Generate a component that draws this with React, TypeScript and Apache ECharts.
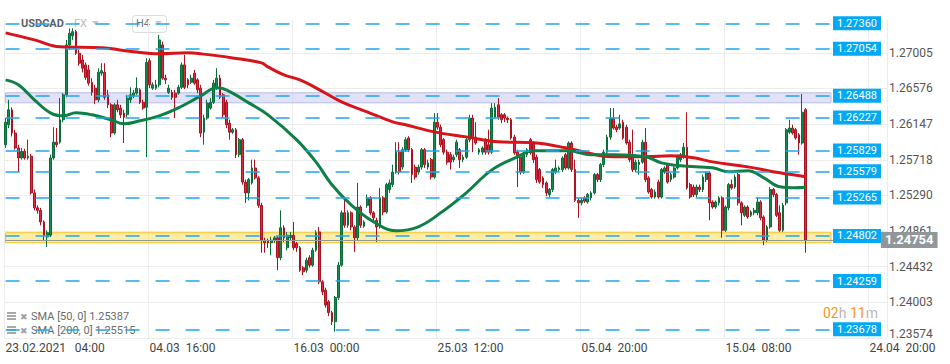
import React, { useEffect, useRef } from 'react';
import * as echarts from 'echarts';

// Tick labels of the time axis (one every 45 H4 bars)
const timeLabels = [
  '23.02.2021\u00a0\u00a0\u00a004:00',
  '04.03\u00a0\u00a016:00',
  '16.03\u00a0\u00a000:00',
  '25.03\u00a0\u00a012:00',
  '05.04\u00a0\u00a020:00',
  '15.04\u00a0\u00a008:00',
  '24.04\u00a0\u00a020:00',
];
const labelStep = 45;
const slotCount = 276;

// H4 candles: [open, close, low, high]
const candles: number[][] = [
  [1.2590,1.2617,1.2586,1.2622],[1.2614,1.2632,1.2610,1.2644],[1.2632,1.2604,1.2600,1.2635],[1.2604,1.2586,1.2584,1.2608],
  [1.2586,1.2574,1.2557,1.2590],[1.2574,1.2582,1.2572,1.2586],[1.2582,1.2574,1.2572,1.2585],[1.2574,1.2576,1.2572,1.2596],
  [1.2576,1.2532,1.2530,1.2579],[1.2532,1.2514,1.2511,1.2536],[1.2514,1.2511,1.2507,1.2517],[1.2511,1.2497,1.2493,1.2514],
  [1.2497,1.2481,1.2475,1.2499],[1.2479,1.2484,1.2467,1.2487],[1.2481,1.2574,1.2479,1.2578],[1.2574,1.2593,1.2572,1.2611],
  [1.2593,1.2590,1.2587,1.2610],[1.2593,1.2620,1.2591,1.2646],[1.2620,1.2650,1.2617,1.2652],[1.2650,1.2710,1.2647,1.2716],
  [1.2710,1.2724,1.2704,1.2730],[1.2721,1.2726,1.2716,1.2730],[1.2726,1.2700,1.2698,1.2728],[1.2700,1.2688,1.2685,1.2704],
  [1.2692,1.2682,1.2677,1.2698],[1.2686,1.2671,1.2668,1.2689],[1.2680,1.2664,1.2661,1.2686],[1.2665,1.2653,1.2649,1.2670],
  [1.2658,1.2644,1.2639,1.2662],[1.2644,1.2677,1.2641,1.2682],[1.2676,1.2679,1.2673,1.2688],[1.2677,1.2647,1.2644,1.2688],
  [1.2650,1.2638,1.2634,1.2656],[1.2638,1.2604,1.2599,1.2640],[1.2604,1.2638,1.2602,1.2640],[1.2638,1.2632,1.2629,1.2644],
  [1.2634,1.2626,1.2622,1.2638],[1.2628,1.2623,1.2592,1.2632],[1.2626,1.2646,1.2623,1.2650],[1.2644,1.2650,1.2640,1.2659],
  [1.2649,1.2652,1.2646,1.2656],[1.2652,1.2658,1.2650,1.2671],[1.2656,1.2641,1.2639,1.2658],[1.2641,1.2634,1.2632,1.2644],
  [1.2635,1.2689,1.2575,1.2694],[1.2691,1.2662,1.2658,1.2694],[1.2658,1.2662,1.2656,1.2665],[1.2658,1.2662,1.2656,1.2668],
  [1.2662,1.2716,1.2659,1.2722],[1.2710,1.2670,1.2668,1.2714],[1.2670,1.2668,1.2663,1.2674],[1.2653,1.2658,1.2651,1.2662],
  [1.2653,1.2647,1.2644,1.2656],[1.2652,1.2647,1.2622,1.2656],[1.2652,1.2659,1.2650,1.2662],[1.2659,1.2686,1.2657,1.2689],
  [1.2686,1.2659,1.2657,1.2698],[1.2668,1.2662,1.2658,1.2670],[1.2665,1.2670,1.2663,1.2674],[1.2676,1.2664,1.2662,1.2680],
  [1.2668,1.2656,1.2652,1.2670],[1.2658,1.2604,1.2599,1.2662],[1.2605,1.2622,1.2590,1.2626],[1.2622,1.2640,1.2620,1.2644],
  [1.2634,1.2641,1.2632,1.2646],[1.2641,1.2664,1.2639,1.2668],[1.2658,1.2670,1.2656,1.2682],[1.2670,1.2647,1.2645,1.2674],
  [1.2650,1.2626,1.2622,1.2652],[1.2641,1.2614,1.2610,1.2644],[1.2616,1.2605,1.2596,1.2620],[1.2605,1.2608,1.2603,1.2610],
  [1.2608,1.2578,1.2574,1.2610],[1.2578,1.2596,1.2575,1.2598],[1.2596,1.2545,1.2542,1.2598],[1.2545,1.2532,1.2520,1.2548],
  [1.2532,1.2548,1.2523,1.2550],[1.2544,1.2562,1.2542,1.2572],[1.2562,1.2550,1.2548,1.2572],[1.2550,1.2517,1.2514,1.2552],
  [1.2517,1.2475,1.2460,1.2520],[1.2475,1.2472,1.2460,1.2478],[1.2474,1.2472,1.2466,1.2477],[1.2472,1.2475,1.2457,1.2479],
  [1.2475,1.2478,1.2472,1.2480],[1.2478,1.2454,1.2439,1.2480],[1.2454,1.2490,1.2451,1.2511],[1.2490,1.2478,1.2473,1.2493],
  [1.2466,1.2481,1.2463,1.2485],[1.2478,1.2481,1.2475,1.2485],[1.2481,1.2466,1.2463,1.2497],[1.2471,1.2466,1.2461,1.2473],
  [1.2466,1.2439,1.2437,1.2468],[1.2442,1.2437,1.2433,1.2444],[1.2439,1.2451,1.2436,1.2454],[1.2454,1.2445,1.2442,1.2457],
  [1.2445,1.2463,1.2443,1.2466],[1.2463,1.2484,1.2461,1.2487],[1.2485,1.2425,1.2422,1.2491],[1.2425,1.2413,1.2409,1.2427],
  [1.2415,1.2397,1.2394,1.2418],[1.2401,1.2388,1.2384,1.2403],[1.2388,1.2377,1.2373,1.2390],[1.2377,1.2406,1.2365,1.2408],
  [1.2406,1.2445,1.2403,1.2449],[1.2445,1.2508,1.2443,1.2511],[1.2508,1.2493,1.2490,1.2526],[1.2493,1.2508,1.2490,1.2511],
  [1.2508,1.2491,1.2487,1.2510],[1.2491,1.2478,1.2461,1.2493],[1.2478,1.2515,1.2475,1.2544],[1.2515,1.2493,1.2490,1.2517],
  [1.2492,1.2497,1.2490,1.2499],[1.2517,1.2526,1.2514,1.2530],[1.2526,1.2508,1.2505,1.2528],[1.2508,1.2502,1.2498,1.2510],
  [1.2499,1.2491,1.2473,1.2502],[1.2491,1.2526,1.2489,1.2538],[1.2526,1.2509,1.2505,1.2528],[1.2509,1.2542,1.2507,1.2544],
  [1.2536,1.2544,1.2532,1.2548],[1.2542,1.2557,1.2539,1.2566],[1.2557,1.2581,1.2555,1.2593],[1.2581,1.2557,1.2554,1.2593],
  [1.2563,1.2584,1.2560,1.2587],[1.2584,1.2596,1.2581,1.2599],[1.2598,1.2584,1.2581,1.2600],[1.2584,1.2554,1.2544,1.2586],
  [1.2563,1.2551,1.2548,1.2566],[1.2557,1.2563,1.2554,1.2566],[1.2563,1.2584,1.2560,1.2586],[1.2584,1.2566,1.2562,1.2586],
  [1.2563,1.2568,1.2560,1.2572],[1.2572,1.2551,1.2548,1.2574],[1.2551,1.2617,1.2549,1.2628],[1.2617,1.2611,1.2608,1.2628],
  [1.2611,1.2590,1.2587,1.2614],[1.2596,1.2581,1.2578,1.2598],[1.2581,1.2569,1.2566,1.2584],[1.2578,1.2569,1.2560,1.2581],
  [1.2572,1.2575,1.2569,1.2578],[1.2578,1.2593,1.2575,1.2596],[1.2584,1.2572,1.2562,1.2586],[1.2572,1.2575,1.2569,1.2578],
  [1.2575,1.2596,1.2573,1.2598],[1.2596,1.2622,1.2593,1.2626],[1.2622,1.2598,1.2581,1.2626],[1.2599,1.2592,1.2590,1.2617],
  [1.2581,1.2584,1.2578,1.2586],[1.2581,1.2586,1.2578,1.2588],[1.2596,1.2581,1.2578,1.2598],[1.2590,1.2581,1.2578,1.2608],
  [1.2581,1.2634,1.2579,1.2640],[1.2623,1.2635,1.2621,1.2640],[1.2638,1.2623,1.2620,1.2646],[1.2626,1.2620,1.2616,1.2628],
  [1.2626,1.2622,1.2617,1.2628],[1.2622,1.2620,1.2616,1.2624],[1.2620,1.2598,1.2596,1.2622],[1.2599,1.2580,1.2578,1.2602],
  [1.2581,1.2575,1.2539,1.2584],[1.2575,1.2557,1.2554,1.2578],[1.2557,1.2578,1.2555,1.2580],[1.2578,1.2584,1.2575,1.2586],
  [1.2596,1.2580,1.2578,1.2598],[1.2592,1.2572,1.2568,1.2594],[1.2575,1.2548,1.2544,1.2578],[1.2560,1.2545,1.2543,1.2562],
  [1.2550,1.2542,1.2538,1.2552],[1.2544,1.2532,1.2528,1.2546],[1.2530,1.2536,1.2527,1.2538],[1.2536,1.2560,1.2533,1.2562],
  [1.2557,1.2562,1.2555,1.2572],[1.2560,1.2562,1.2557,1.2564],[1.2560,1.2574,1.2557,1.2576],[1.2578,1.2562,1.2560,1.2580],
  [1.2562,1.2592,1.2560,1.2594],[1.2592,1.2560,1.2557,1.2594],[1.2560,1.2523,1.2521,1.2572],[1.2523,1.2520,1.2502,1.2526],
  [1.2520,1.2523,1.2517,1.2526],[1.2526,1.2522,1.2520,1.2528],[1.2521,1.2530,1.2519,1.2532],[1.2526,1.2532,1.2523,1.2534],
  [1.2532,1.2554,1.2530,1.2556],[1.2554,1.2548,1.2545,1.2556],[1.2548,1.2566,1.2545,1.2568],[1.2566,1.2581,1.2563,1.2584],
  [1.2581,1.2599,1.2579,1.2602],[1.2599,1.2622,1.2596,1.2634],[1.2622,1.2610,1.2608,1.2634],[1.2611,1.2608,1.2605,1.2614],
  [1.2610,1.2615,1.2608,1.2626],[1.2617,1.2598,1.2596,1.2620],[1.2611,1.2592,1.2590,1.2614],[1.2593,1.2572,1.2569,1.2596],
  [1.2575,1.2560,1.2557,1.2608],[1.2560,1.2569,1.2557,1.2572],[1.2566,1.2569,1.2554,1.2572],[1.2569,1.2593,1.2567,1.2596],
  [1.2593,1.2548,1.2545,1.2610],[1.2550,1.2533,1.2531,1.2552],[1.2536,1.2527,1.2525,1.2538],[1.2527,1.2533,1.2525,1.2536],
  [1.2545,1.2527,1.2525,1.2548],[1.2527,1.2560,1.2525,1.2562],[1.2557,1.2562,1.2555,1.2564],[1.2566,1.2545,1.2543,1.2568],
  [1.2548,1.2554,1.2545,1.2556],[1.2551,1.2562,1.2549,1.2564],[1.2562,1.2575,1.2560,1.2578],[1.2572,1.2578,1.2569,1.2580],
  [1.2575,1.2587,1.2573,1.2592],[1.2587,1.2538,1.2536,1.2629],[1.2542,1.2527,1.2525,1.2544],[1.2539,1.2530,1.2527,1.2542],
  [1.2530,1.2539,1.2527,1.2542],[1.2539,1.2536,1.2533,1.2542],[1.2536,1.2551,1.2533,1.2554],[1.2548,1.2556,1.2545,1.2558],
  [1.2556,1.2520,1.2499,1.2558],[1.2521,1.2515,1.2513,1.2523],[1.2515,1.2521,1.2513,1.2523],[1.2520,1.2526,1.2517,1.2528],
  [1.2526,1.2487,1.2478,1.2528],[1.2487,1.2515,1.2485,1.2517],[1.2514,1.2542,1.2511,1.2544],[1.2542,1.2538,1.2536,1.2548],
  [1.2539,1.2551,1.2537,1.2554],[1.2554,1.2520,1.2517,1.2556],[1.2520,1.2508,1.2493,1.2522],[1.2505,1.2515,1.2503,1.2517],
  [1.2515,1.2503,1.2501,1.2517],[1.2505,1.2509,1.2503,1.2511],[1.2508,1.2511,1.2505,1.2514],[1.2508,1.2521,1.2505,1.2527],
  [1.2521,1.2502,1.2499,1.2523],[1.2503,1.2475,1.2469,1.2505],[1.2475,1.2491,1.2473,1.2493],[1.2491,1.2536,1.2489,1.2539],
  [1.2536,1.2530,1.2527,1.2538],[1.2530,1.2505,1.2503,1.2532],[1.2508,1.2487,1.2485,1.2517],[1.2487,1.2517,1.2485,1.2520],
  [1.2520,1.2608,1.2517,1.2610],[1.2605,1.2610,1.2603,1.2620],[1.2610,1.2604,1.2602,1.2614],[1.2608,1.2598,1.2596,1.2610],
  [1.2602,1.2592,1.2578,1.2604],[1.2592,1.2629,1.2590,1.2651],[1.2632,1.24754,1.2460,1.2634],
];

// SMA 50 (green): [bar index, value]
const smaFast: number[][] = [
  [0,1.26680],[4,1.26620],[9,1.26439],[14,1.26283],[18,1.26247],[22,1.26283],[27,1.26259],[33,1.26199],
  [37,1.26151],[42,1.26187],[48,1.26247],[54,1.26343],[61,1.26487],[66,1.26584],[69,1.26560],[76,1.26403],
  [82,1.26259],[91,1.25958],[97,1.25693],[102,1.25417],[108,1.25176],[115,1.24972],[122,1.24864],[129,1.24912],
  [136,1.25080],[144,1.25321],[152,1.25597],[160,1.25754],[165,1.25826],[176,1.25826],[183,1.25778],[190,1.25778],
  [200,1.25754],[205,1.25681],[211,1.25645],[221,1.25621],[226,1.25573],[232,1.25585],[237,1.25501],[242,1.25393],
  [247,1.25381],[250,1.25387],
];

// SMA 200 (red): [bar index, value]
const smaSlow: number[][] = [
  [0,1.27245],[9,1.27161],[17,1.27077],[30,1.27065],[40,1.27017],[48,1.26993],[57,1.27005],[61,1.26993],
  [71,1.26944],[80,1.26884],[82,1.26836],[87,1.26740],[92,1.26680],[97,1.26584],[105,1.26415],[113,1.26295],
  [121,1.26175],[125,1.26139],[134,1.26054],[144,1.25994],[154,1.25934],[165,1.25922],[175,1.25862],[186,1.25766],
  [190,1.25754],[200,1.25754],[208,1.25766],[215,1.25742],[221,1.25693],[232,1.25633],[242,1.25561],[250,1.25515],
];

// Horizontal levels and zones
const levels = [1.2736, 1.27054, 1.26488, 1.26227, 1.25829, 1.25579, 1.25265, 1.24802, 1.24259, 1.23678];
const zoneLevels = [
  [1.26404, 1.26524],
  [1.24720, 1.24840],
];
const lastPrice = 1.24754;

// Price axis ticks
const priceMin = 1.23574;
const priceMax = 1.274;
const priceStep = 0.0042888;

// Candle countdown
const countdown = { hours: '02', minutes: '11' };

const FONT = 'Roboto, "Noto Sans", "DejaVu Sans", sans-serif';

export default function App() {
  const ref = useRef<HTMLDivElement>(null);

  useEffect(() => {
    const chart = echarts.init(ref.current!, null, { renderer: 'svg' });
    const categories = Array.from({ length: slotCount }, (_, i) => String(i));
    const levelEnd = 258;
    const priceEnd = 273;
    const showTick = (i: number) => i % labelStep === 0;

    const levelLines: any[] = levels.map((v) => [
      { coord: [0, v], label: { formatter: v.toFixed(5) } },
      { coord: [levelEnd, v] },
    ]);
    levelLines.push([
      {
        coord: [0, lastPrice],
        lineStyle: { color: '#8f979b', type: 'solid', width: 1 },
        label: {
          formatter: lastPrice.toFixed(5),
          backgroundColor: '#8f979b',
          fontWeight: 'bold',
          fontSize: 13,
          padding: [2, 4, 1, 4],
        },
      },
      { coord: [priceEnd, lastPrice] },
    ]);

    const zoneStyles = [
      { color: 'rgba(200,203,240,0.55)', borderColor: '#b7bce6', borderWidth: 1 },
      { color: 'rgba(252,222,96,0.55)', borderColor: '#f2c417', borderWidth: 1 },
    ];

    const option: any = {
      animation: false,
      backgroundColor: '#ffffff',
      textStyle: { fontFamily: FONT },
      grid: { left: 4, right: 63, top: 20, bottom: 26, containLabel: false },
      xAxis: {
        type: 'category',
        data: categories,
        boundaryGap: true,
        axisLine: { show: false },
        axisTick: { show: false, interval: showTick },
        splitLine: { show: true, interval: showTick, lineStyle: { color: '#ececec', width: 1 } },
        axisLabel: {
          interval: showTick,
          formatter: (_v: string, i: number) => timeLabels[i / labelStep] ?? '',
          align: 'left',
          margin: 4,
          color: '#444',
          fontSize: 12,
          fontFamily: FONT,
        },
      },
      yAxis: {
        type: 'value',
        position: 'right',
        min: priceMin,
        max: priceMax,
        interval: priceStep,
        scale: true,
        axisLine: { show: false },
        axisTick: { show: false },
        splitLine: { show: true, showMaxLine: false, lineStyle: { color: '#ececec', width: 1 } },
        axisLabel: {
          showMaxLabel: false,
          margin: 2,
          color: '#555',
          fontSize: 12,
          fontFamily: FONT,
          formatter: (v: number) =>
            Math.abs(v - priceMin) < 1e-7 ? `{low|${v.toFixed(5)}}` : v.toFixed(5),
          rich: {
            low: { color: '#555', fontSize: 12, fontFamily: FONT, padding: [0, 0, 9, 0] },
          },
        },
      },
      series: [
        {
          type: 'candlestick',
          data: candles,
          barWidth: '72%',
          z: 2,
          itemStyle: {
            color: '#15894e',
            color0: '#e2283b',
            borderColor: '#0b6c3b',
            borderColor0: '#a8131f',
            borderWidth: 1,
          },
        },
        {
          type: 'line',
          data: smaSlow,
          smooth: 0.4,
          showSymbol: false,
          z: 3,
          lineStyle: { color: '#d7141a', width: 3 },
        },
        {
          type: 'line',
          data: smaFast,
          smooth: 0.4,
          showSymbol: false,
          z: 3,
          lineStyle: { color: '#0d7f47', width: 3 },
        },
        {
          type: 'line',
          data: [],
          z: 4,
          markLine: {
            silent: true,
            symbol: ['none', 'none'],
            emphasis: { disabled: true },
            lineStyle: { color: '#1ea7ee', width: 1.5, type: [14, 16] },
            label: {
              show: true,
              position: 'end',
              distance: 2,
              color: '#ffffff',
              backgroundColor: '#03a9f4',
              padding: [2, 4, 1, 4],
              fontSize: 11,
              fontFamily: FONT,
            },
            data: levelLines,
          },
        },
        {
          type: 'line',
          data: [],
          z: 5,
          markArea: {
            silent: true,
            emphasis: { disabled: true },
            data: zoneLevels.map((z, k) => [
              { coord: [0, z[0]], itemStyle: zoneStyles[k] },
              { coord: [levelEnd, z[1]] },
            ]),
          },
        },
      ],
      graphic: [
        { type: 'text', left: 21, top: 18, style: { text: 'USDCAD', fill: '#5b6168', font: `bold 11px ${FONT}` } },
        { type: 'text', left: 74, top: 18, style: { text: 'FX', fill: '#b9bec4', font: `11px ${FONT}` } },
        { type: 'polygon', shape: { points: [[92, 21], [99, 21], [95.5, 25]] }, style: { fill: '#c3c7cc' } },
        { type: 'rect', shape: { x: 132.5, y: 15.5, width: 34, height: 17, r: 3 }, style: { fill: 'rgba(255,255,255,0.85)', stroke: '#dcdcdc', lineWidth: 1 } },
        { type: 'text', left: 136, top: 18, style: { text: 'H4', fill: '#6f757b', font: `11px ${FONT}` } },
        { type: 'polygon', shape: { points: [[155, 21], [162, 21], [158.5, 25]] }, style: { fill: '#c8cbcf' } },
        // legend rows
        { type: 'rect', shape: { x: 7, y: 312, width: 9, height: 2 }, style: { fill: '#a9a9a9' } },
        { type: 'rect', shape: { x: 7, y: 315, width: 9, height: 2 }, style: { fill: '#a9a9a9' } },
        { type: 'rect', shape: { x: 7, y: 318, width: 9, height: 2 }, style: { fill: '#a9a9a9' } },
        { type: 'text', left: 20, top: 312, style: { text: '\u2716', fill: '#a0a0a0', font: `9px "DejaVu Sans"` } },
        { type: 'text', left: 31, top: 311, style: { text: `SMA [50, 0] ${smaFast[smaFast.length - 1][1].toFixed(5)}`, fill: '#6b6b6b', font: `11px ${FONT}` } },
        { type: 'rect', shape: { x: 7, y: 326, width: 9, height: 2 }, style: { fill: '#a9a9a9' } },
        { type: 'rect', shape: { x: 7, y: 329, width: 9, height: 2 }, style: { fill: '#a9a9a9' } },
        { type: 'rect', shape: { x: 7, y: 332, width: 9, height: 2 }, style: { fill: '#a9a9a9' } },
        { type: 'text', left: 20, top: 326, style: { text: '\u2716', fill: '#a0a0a0', font: `9px "DejaVu Sans"` } },
        { type: 'text', left: 31, top: 325, style: { text: `SMA [200, 0] ${smaSlow[smaSlow.length - 1][1].toFixed(5)}`, fill: '#6b6b6b', font: `11px ${FONT}` } },
        // candle countdown
        {
          type: 'text',
          left: 823,
          top: 306,
          style: {
            text: `{o|${countdown.hours}}{g|h} {o|${countdown.minutes}}{g|m}`,
            font: `14px ${FONT}`,
            rich: {
              o: { fill: '#f7941d', fontSize: 14, fontFamily: FONT, lineHeight: 15 },
              g: { fill: '#b8b8b8', fontSize: 14, fontFamily: FONT, lineHeight: 15 },
            },
          },
        },
      ],
    };

    chart.setOption(option);
    return () => chart.dispose();
  }, []);

  return (
    <div
      ref={ref}
      style={{ position: 'absolute', left: 0, top: 0, width: 950, height: 364, background: '#ffffff' }}
    />
  );
}
